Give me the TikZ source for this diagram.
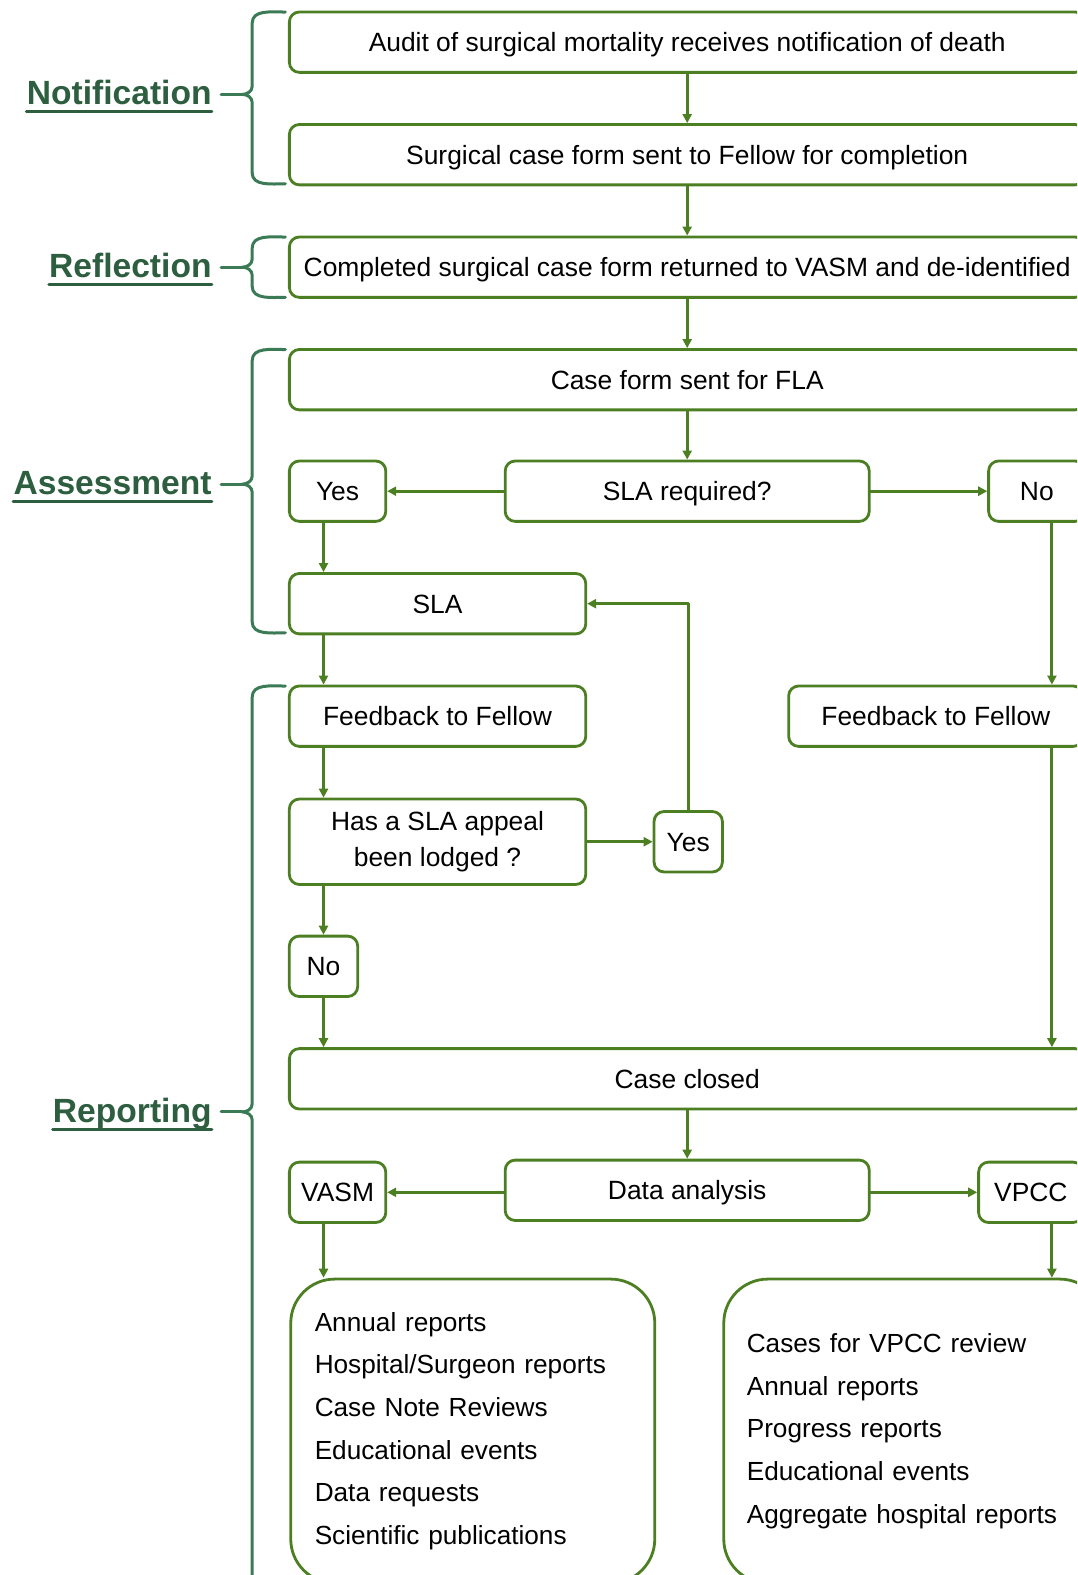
\documentclass[tikz,border=0pt]{standalone}
\usepackage{fontspec}
\setmainfont{Liberation Sans}
\usetikzlibrary{arrows.meta}
\definecolor{boxgreen}{RGB}{76,127,34}
\definecolor{bracegreen}{RGB}{58,122,85}
\definecolor{labelgreen}{RGB}{45,94,63}
\tikzset{
  box/.style={draw=boxgreen, line width=1.4pt, rounded corners=5pt, fill=white,
    minimum height=30.2pt, inner sep=0pt, align=center, text height=9.5pt, text depth=0pt,
    font=\fontsize{13.2}{18}\selectfont},
  listbox/.style={box, text height={}, text depth={}, rounded corners=22pt, anchor=north west,
    minimum height=152pt, align=left, font=\fontsize{13.1}{21.35}\selectfont},
  arr/.style={draw=boxgreen, line width=1.5pt, -{Triangle[length=4.5pt,width=4.5pt]}},
  phasebrace/.style={draw=bracegreen, line width=1.5pt},
  phase/.style={anchor=base east, inner sep=0pt, text=labelgreen,
    font=\fontsize{16.8}{20}\selectfont\bfseries}
}
\begin{document}
\begin{tikzpicture}[x=0.5023pt, y=-0.5022pt, line cap=round, line join=round]
	\clip (0,0) rectangle (1072,1568);
	\coordinate (lc) at (322,0);
	\coordinate (mc) at (684,0);
	\coordinate (rc) at (1047,0);
	% phases
	\foreach \t/\b/\m/\name in {12/183/94/Notification, 236/296/266/Reflection,
			348/630/482/Assessment, 683/1600/1107/Reporting} {
		\draw[phasebrace] (284,\t) to[out=180,in=90] (251,\t+11) -- (251,\m-8)
			to[out=-90,in=0] (241,\m) to[out=0,in=90] (251,\m+8) -- (251,\b-11)
			to[out=-90,in=180] (284,\b);
		\draw[phasebrace] (220,\m) -- (241,\m);
		\node[phase] (\name) at (211,\m+10) {\name};
		\draw[labelgreen, line width=1.5pt] ([yshift=-3.5pt]\name.base west) -- ([yshift=-3.5pt]\name.base east);
	}
	% boxes
	\node[box, minimum width=397.8pt] (audit) at (684,42) {Audit of surgical mortality receives notification of death};
	\node[box, minimum width=397.8pt] (form) at (684,154) {Surgical case form sent to Fellow for completion};
	\node[box, minimum width=397.8pt] (returned) at (684,266) {Completed surgical case form returned to VASM and de-identified};
	\node[box, minimum width=397.8pt] (fla) at (684,378) {Case form sent for FLA};
	\node[box, minimum width=182pt] (slareq) at (684,489) {SLA required?};
	\node[box, minimum width=48.2pt] (yes1) at (336,489) {Yes};
	\node[box, minimum width=48.2pt] (no1) at (1032,489) {No};
	\node[box, minimum width=148.2pt] (sla) at (435.5,601) {SLA};
	\node[box, minimum width=148.2pt] (fbl) at (435.5,713) {Feedback to Fellow};
	\node[box, minimum width=147.2pt] (fbr) at (931.5,713) {Feedback to Fellow};
	\node[box, text height={}, text depth={}, minimum width=148.2pt, minimum height=42.7pt] (appeal) at (435.5,838) {Has a SLA appeal\\been lodged ?};
	\node[box, minimum width=34.2pt] (yes2) at (685,838) {Yes};
	\node[box, minimum width=34.2pt] (no2) at (322,962) {No};
	\node[box, minimum width=397.8pt] (closed) at (684,1074) {Case closed};
	\node[box, minimum width=182pt] (da) at (684,1185) {Data analysis};
	\node[box, minimum width=48.2pt] (vasm) at (336,1187) {VASM};
	\node[box, minimum width=52.2pt] (vpcc) at (1026,1187) {VPCC};
	\node[listbox, minimum width=182pt, inner xsep=12pt, text width=158pt] (vasmlist) at (288,1272)
		{Annual reports\\Hospital/Surgeon reports\\Case Note Reviews\\Educational events\\Data requests\\Scientific publications};
	\node[listbox, minimum width=190pt, inner xsep=11.5pt, text width=167pt] (vpcclist) at (719,1272)
		{Cases for VPCC review\\Annual reports\\Progress reports\\Educational events\\Aggregate hospital reports};
	% connectors
	\draw[arr] (audit.south -| mc) -- (form.north -| mc);
	\draw[arr] (form.south -| mc) -- (returned.north -| mc);
	\draw[arr] (returned.south -| mc) -- (fla.north -| mc);
	\draw[arr] (fla.south -| mc) -- (slareq.north);
	\draw[arr] (slareq.west) -- (yes1.east);
	\draw[arr] (slareq.east) -- (no1.west);
	\draw[arr] (yes1.south -| lc) -- (sla.north -| lc);
	\draw[arr] (no1.south -| rc) -- (fbr.north -| rc);
	\draw[arr] (sla.south -| lc) -- (fbl.north -| lc);
	\draw[arr] (fbl.south -| lc) -- (appeal.north -| lc);
	\draw[arr] (appeal.east) -- (appeal.east -| yes2.west);
	\draw[arr] (yes2.north) |- (sla.east);
	\draw[arr] (appeal.south -| lc) -- (no2.north);
	\draw[arr] (no2.south) -- (closed.north -| lc);
	\draw[arr] (fbr.south -| rc) -- (closed.north -| rc);
	\draw[arr] (closed.south -| mc) -- (da.north);
	\draw[arr] (da.west |- vasm.east) -- (vasm.east);
	\draw[arr] (da.east |- vpcc.west) -- (vpcc.west);
	\draw[arr] (vasm.south -| lc) -- (vasmlist.north -| lc);
	\draw[arr] (vpcc.south -| rc) -- (vpcclist.north -| rc);
\end{tikzpicture}
\end{document}
